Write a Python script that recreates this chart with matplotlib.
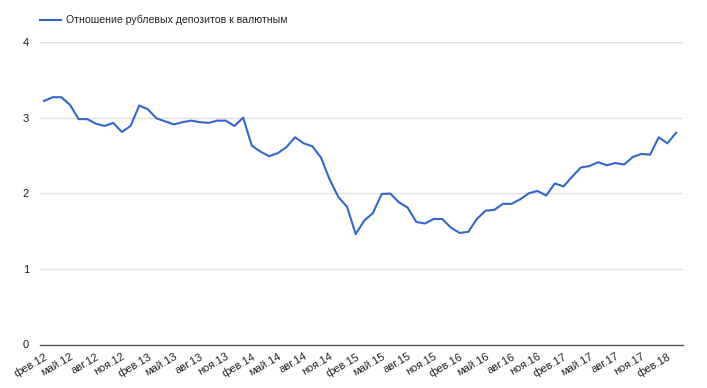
import numpy as np
import matplotlib.pyplot as plt

plt.rcParams['font.family'] = ['Liberation Sans', 'DejaVu Sans']

# monthly ratio, фев.12 .. мар.18
months = ['янв', 'фев', 'мар', 'апр', 'май', 'июн', 'июл', 'авг', 'сен', 'окт', 'ноя', 'дек']
start_month = 1   # фев
start_year = 12
ratio = [3.22, 3.27, 3.27, 3.17, 2.98, 2.98, 2.92, 2.89, 2.93, 2.81,
         2.89, 3.16, 3.11, 2.99, 2.95, 2.91, 2.94, 2.96, 2.94, 2.93,
         2.96, 2.96, 2.89, 3.00, 2.63, 2.55, 2.49, 2.53, 2.61, 2.74,
         2.66, 2.62, 2.47, 2.18, 1.95, 1.82, 1.46, 1.64, 1.74, 1.99,
         1.995, 1.88, 1.81, 1.62, 1.60, 1.66, 1.66, 1.545, 1.475, 1.49,
         1.66, 1.77, 1.78, 1.86, 1.86, 1.92, 2.00, 2.03, 1.97, 2.13,
         2.09, 2.22, 2.34, 2.36, 2.41, 2.37, 2.40, 2.38, 2.48, 2.52,
         2.51, 2.74, 2.66, 2.80]
series_name = 'Отношение рублевых депозитов к валютным'
yticks = [0, 1, 2, 3, 4]

labels = []
for i in range(len(ratio)):
    m = (start_month + i) % 12
    y = start_year + (start_month + i) // 12
    labels.append('{}.{}'.format(months[m], y))

x = np.arange(len(ratio))

fig = plt.figure(figsize=(7.07, 3.88), dpi=100)
ax = fig.add_axes([40/707, 43.5/388, 643/707, 302.5/388])

line, = ax.plot(x, ratio, color='#3366cc', linewidth=1.5, label=series_name)

ax.set_xlim(-0.46, 73.8)
ax.set_ylim(0, 4)
ax.set_yticks(yticks)
ax.set_xticks(x[::3])
ax.set_xticklabels(labels[::3], rotation=30, ha='right', rotation_mode='anchor')
ax.tick_params(axis='both', length=0, labelsize=8, colors='#222222')
ax.tick_params(axis='x', pad=5)
ax.tick_params(axis='y', pad=8)

ax.grid(axis='y', color='#e0e0e0', linewidth=1)
ax.set_axisbelow(True)
for s in ['top', 'right', 'left']:
    ax.spines[s].set_visible(False)
ax.spines['bottom'].set_color('#555555')
ax.spines['bottom'].set_linewidth(1)

ax.legend(handles=[line], loc='lower left', bbox_to_anchor=(0.0, 1.055),
          frameon=False, fontsize=7.6, handlelength=2.0, handletextpad=0.5,
          borderaxespad=0, borderpad=0, labelcolor='#222222')

fig.savefig('out.png', dpi=100)
